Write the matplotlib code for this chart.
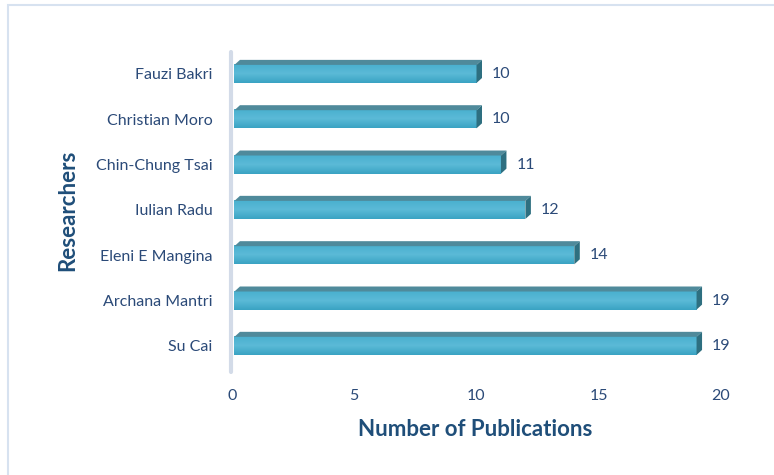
import numpy as np
import matplotlib.pyplot as plt
from matplotlib.patches import Polygon, Rectangle
from matplotlib.colors import LinearSegmentedColormap
from matplotlib.transforms import ScaledTranslation

researchers = ["Su Cai", "Archana Mantri", "Eleni E Mangina", "Iulian Radu",
               "Chin-Chung Tsai", "Christian Moro", "Fauzi Bakri"]
publications = [19, 19, 14, 12, 11, 10, 10]
xticks = [0, 5, 10, 15, 20]

plt.rcParams["font.family"] = ["Lato", "DejaVu Sans"]
text_col = "#2b4a78"
title_col = "#1f4e79"

fig = plt.figure(figsize=(7.74, 4.75), dpi=100)
fig.patches.append(Rectangle((8 / 774, -0.1), 2.0, 1 - 5 / 475 + 0.1,
                             transform=fig.transFigure, fill=False,
                             edgecolor="#d7e2f0", linewidth=1.5))

ax = fig.add_axes([232 / 774, 1 - 372 / 475, (721 - 232) / 774, 320 / 475])
ylo, yhi = -0.576, 6.484
ax.set_xlim(0, 20)
ax.set_ylim(ylo, yhi)
for s in ax.spines.values():
    s.set_visible(False)

# side wall
ax.plot([-0.06, -0.06], [ylo, yhi], color="#d3dbe8", lw=3, clip_on=False,
        solid_capstyle="round")

y = np.arange(len(researchers))
h = 0.4
dx = 5.5 / 24.45
dy = 5.0 / 45.3
grad = np.linspace(0, 1, 50).reshape(-1, 1)
cmap = LinearSegmentedColormap.from_list("bar", ["#3aa3c3", "#5bbad7", "#49b0cf"])

for yi, v in zip(y, publications):
    x0 = 0.1
    ax.imshow(grad, cmap=cmap, aspect="auto",
              extent=(x0, v, yi - h / 2, yi + h / 2), origin="lower", zorder=2)
    top = Polygon([(x0, yi + h / 2), (v, yi + h / 2), (v + dx, yi + h / 2 + dy),
                   (x0 + dx, yi + h / 2 + dy)], closed=True,
                  facecolor="#4f8a9b", edgecolor="none", zorder=3, clip_on=False)
    side = Polygon([(v, yi - h / 2), (v + dx, yi - h / 2 + dy),
                    (v + dx, yi + h / 2 + dy), (v, yi + h / 2)], closed=True,
                   facecolor="#2e6f80", edgecolor="none", zorder=3, clip_on=False)
    ax.add_patch(top)
    ax.add_patch(side)
    ax.text(v + dx, yi, str(v),
            transform=ax.transData + ScaledTranslation(10 / 100, 0, fig.dpi_scale_trans),
            ha="left", va="center", fontsize=11.5, color=text_col)

ax.set_xticks(xticks)
ax.set_yticks(y)
ax.set_yticklabels(researchers)
ax.tick_params(axis="both", length=0, labelsize=11.5, labelcolor=text_col)
ax.tick_params(axis="y", pad=14)
ax.tick_params(axis="x", pad=12)

fig.text(475 / 774, 1 - 430 / 475, "Number of Publications", ha="center",
         va="center", fontsize=16, fontweight="bold", color=title_col)
fig.text(68 / 774, 1 - 210 / 475, "Researchers", ha="center", va="center",
         rotation=90, fontsize=16, fontweight="bold", color=title_col)

fig.savefig("out.png", dpi=100)
